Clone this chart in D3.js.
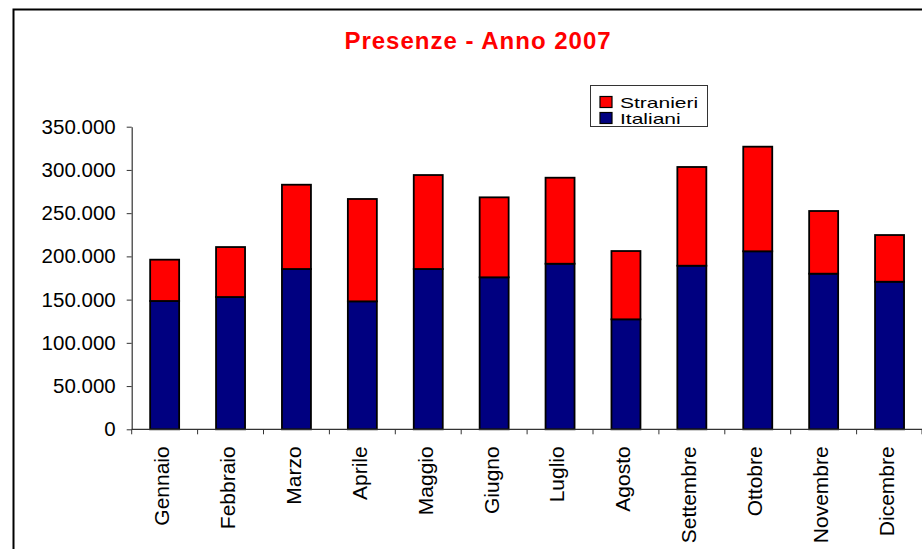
<!DOCTYPE html>
<html>
<head>
<meta charset="utf-8">
<style>
  body { margin: 0; background: #fff; }
  svg { display: block; font-family: "Liberation Sans", Arial, sans-serif; }
</style>
</head>
<body>
<div id="stacked_bar"></div>
<script src="https://d3js.org/d3.v7.min.js"></script>
<script>
// data
var months = ["Gennaio", "Febbraio", "Marzo", "Aprile", "Maggio", "Giugno",
              "Luglio", "Agosto", "Settembre", "Ottobre", "Novembre", "Dicembre"];
var italiani  = [148400, 153000, 185400, 148000, 185400, 175800, 191500, 127200, 189200, 205900, 180000, 170700];
var stranieri = [ 47800,  57800,  97500, 118400, 108700,  92500,  99500,  79000, 114200, 121000,  72500,  54000];
var yTicks = [0, 50000, 100000, 150000, 200000, 250000, 300000, 350000];
var keys = ["Italiani", "Stranieri"];
var legendKeys = ["Stranieri", "Italiani"];

var width = 922, height = 549;
var plot = {left: 131.7, right: 922.5, top: 126.7, bottom: 429.3};

var svg = d3.select("#stacked_bar").append("svg")
    .attr("width", width)
    .attr("height", height);

// outer frame (runs off the right / bottom edge)
svg.append("path")
    .attr("d", "M13.5," + (height + 5) + "V9.5H" + (width + 5))
    .attr("fill", "none")
    .attr("stroke", "#000")
    .attr("stroke-width", 2);

svg.append("text")
    .attr("x", 478)
    .attr("y", 49)
    .attr("text-anchor", "middle")
    .attr("fill", "#ff0000")
    .style("font-size", "24px")
    .style("font-weight", "bold")
    .style("letter-spacing", "1px")
    .text("Presenze - Anno 2007");

var data = months.map(function(m, i) {
  return {month: m, Italiani: italiani[i], Stranieri: stranieri[i]};
});

var x = d3.scaleBand()
    .domain(months)
    .range([plot.left, plot.right]);

var y = d3.scaleLinear()
    .domain([0, 350000])
    .range([plot.bottom, plot.top]);

var z = d3.scaleOrdinal()
    .domain(keys)
    .range(["#000080", "#ff0000"]);

var barW = x.bandwidth() * 0.44;

svg.append("g")
  .selectAll("g")
  .data(d3.stack().keys(keys)(data))
  .enter().append("g")
    .attr("fill", function(d) { return z(d.key); })
  .selectAll("rect")
  .data(function(d) { return d; })
  .enter().append("rect")
    .attr("x", function(d) { return x(d.data.month) + (x.bandwidth() - barW) / 2; })
    .attr("y", function(d) { return y(d[1]); })
    .attr("height", function(d) { return y(d[0]) - y(d[1]); })
    .attr("width", barW)
    .attr("stroke", "#000")
    .attr("stroke-width", 1.8);

// y axis
var fmt = function(v) { return v === 0 ? "0" : d3.format(",")(v).replace(/,/g, "."); };
var yAxis = svg.append("g")
    .attr("transform", "translate(" + plot.left + ",0)")
    .call(d3.axisLeft(y).tickValues(yTicks).tickFormat(fmt).tickSize(5).tickPadding(11).tickSizeOuter(0));
yAxis.select(".domain").attr("stroke", "#333").attr("stroke-width", 1.2);
yAxis.selectAll(".tick line").attr("stroke", "#333");
yAxis.selectAll("text")
    .attr("fill", "#000")
    .style("font-size", "20.5px")
    .attr("font-family", null);

// x axis: ticks on band edges, labels turned
var edges = months.map(function(m) { return x(m); }).concat([plot.right - 0.5]);
var xAxis = svg.append("g")
    .attr("transform", "translate(0," + plot.bottom + ")");
xAxis.append("line")
    .attr("x1", plot.left).attr("x2", plot.right)
    .attr("stroke", "#333").attr("stroke-width", 1.2);
xAxis.selectAll(".edge")
  .data(edges)
  .enter().append("line")
    .attr("class", "edge")
    .attr("x1", function(d) { return d; })
    .attr("x2", function(d) { return d; })
    .attr("y1", 0).attr("y2", 5)
    .attr("stroke", "#333");
xAxis.selectAll(".lbl")
  .data(months)
  .enter().append("text")
    .attr("class", "lbl")
    .attr("transform", function(d) {
      return "translate(" + (x(d) + x.bandwidth() / 2 - 3) + ",17) rotate(-90)";
    })
    .attr("dy", "0.35em")
    .attr("text-anchor", "end")
    .style("font-size", "21px")
    .text(function(d) { return d; });

// legend
var rowH = 16;
var lg = svg.append("g");
lg.append("rect")
    .attr("x", 590.5).attr("y", 85.5)
    .attr("width", 117).attr("height", 41)
    .attr("fill", "#fff")
    .attr("stroke", "#333");
var item = lg.selectAll(".item")
  .data(legendKeys)
  .enter().append("g")
    .attr("class", "item")
    .attr("transform", function(d, i) { return "translate(0," + (i * rowH) + ")"; });
item.append("rect")
    .attr("x", 600).attr("y", 96.5)
    .attr("width", 12).attr("height", 11)
    .attr("fill", function(d) { return z(d); })
    .attr("stroke", "#000")
    .attr("stroke-width", 1.2);
// stretched wider like the original
item.append("text")
    .attr("transform", "translate(620,107.5) scale(1.5,1)")
    .style("font-size", "14px")
    .text(function(d) { return d; });
</script>
</body>
</html>
